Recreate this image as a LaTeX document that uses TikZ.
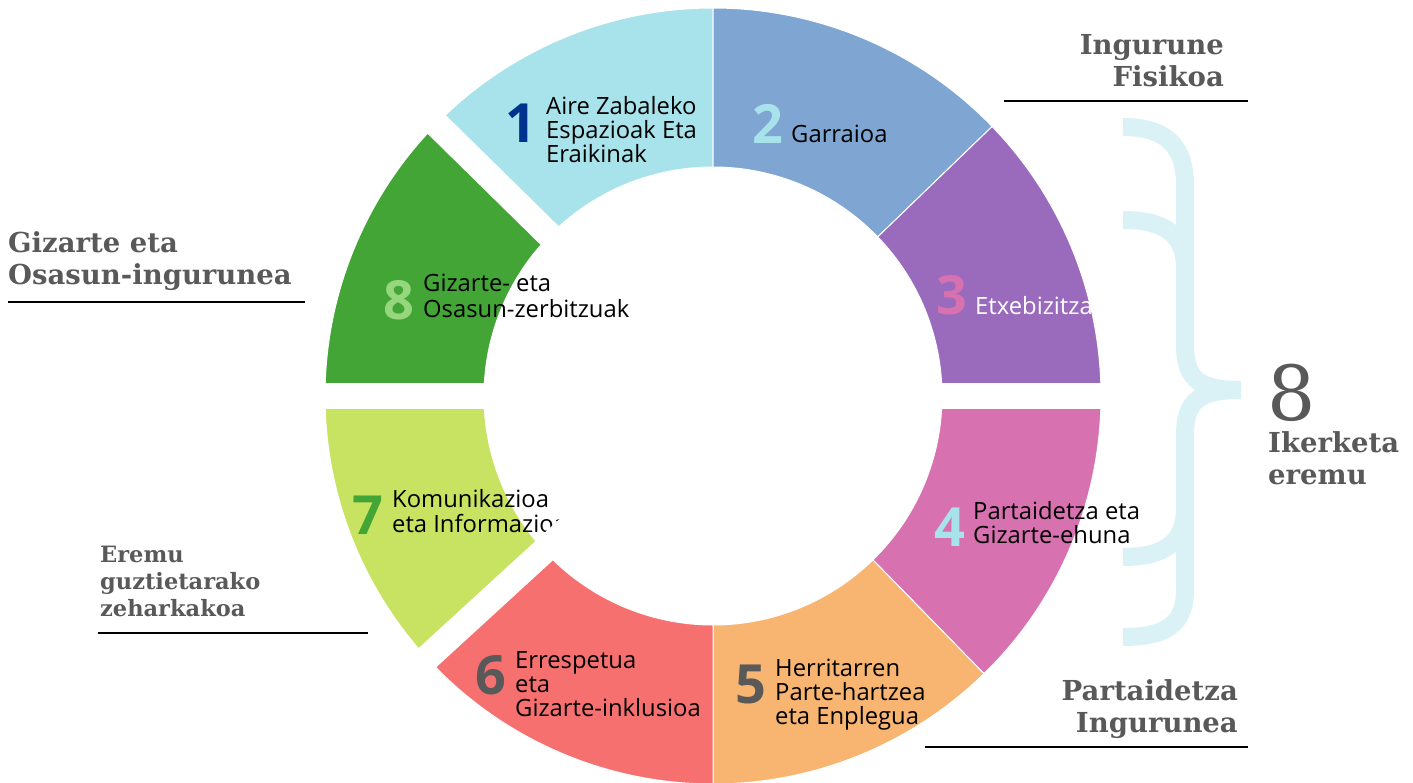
\documentclass[tikz,border=0pt]{standalone}
\usepackage{fontspec}
\setmainfont{Open Sans}
\newfontfamily\headfont{DejaVu Serif}
\definecolor{sone}{HTML}{A8E2EA}
\definecolor{stwo}{HTML}{7FA5D3}
\definecolor{sthree}{HTML}{9A6BBD}
\definecolor{sfour}{HTML}{D871B0}
\definecolor{sfive}{HTML}{F7B571}
\definecolor{ssix}{HTML}{F67070}
\definecolor{sseven}{HTML}{C8E261}
\definecolor{seight}{HTML}{42A536}
\definecolor{navy}{HTML}{00338D}
\definecolor{lgreen}{HTML}{96D77E}
\definecolor{hgray}{HTML}{595959}
\definecolor{bracec}{HTML}{DAF1F6}
\begin{document}
\begin{tikzpicture}[x=1pt,y=1pt,
    num/.style={font=\fontsize{54}{54}\selectfont\bfseries,inner sep=0pt},
    lab/.style={font=\fontsize{23.8}{24}\selectfont,align=left,inner sep=0pt,anchor=base west},
    head/.style={font=\headfont\bfseries\fontsize{27.5}{32}\selectfont,text=hgray,inner sep=0pt},
    rule/.style={line width=2.5pt},
    gap/.style={white,line width=26pt},
    brace/.style={bracec,line width=18pt}]
    \useasboundingbox (0,0) rectangle (1413,-783);
    \coordinate (c) at (713,-396);

    \begin{scope}[shift={(c)}]
        \foreach \a/\b/\col in {90/135.5/sone, 44/90/stwo, 0/44/sthree, -45.7/0/sfour,
                -90/-45.7/sfive, -137.5/-90/ssix, -180/-137.5/sseven, 135.5/180/seight}
            \fill[fill=\col,draw=white,line width=1pt] (\a:388) arc (\a:\b:388) -- (\b:229) arc (\b:\a:229) -- cycle;
    \end{scope}

    \node[num,text=navy] (n1) at (521,-123) {1};
    \node[lab] (t1) at (546,-163) {Aire Zabaleko\\Espazioak Eta\\Eraikinak};
    \node[num,text=sone] (n2) at (768,-124) {2};
    \node[lab] (t2) at (791,-143) {Garraioa};
    \node[num,text=sfour] (n3) at (952,-295) {3};
    \node[lab,text=white] (t3) at (975,-315) {Etxebizitza};
    \node[num,text=sone] (n4) at (950,-527) {4};
    \node[lab] (t4) at (973,-543) {Partaidetza eta\\Gizarte-ehuna};
    \node[num,text=hgray] (n5) at (751,-684) {5};
    \node[lab] (t5) at (775,-724) {Herritarren\\Parte-hartzea\\eta Enplegua};
    \node[num,text=hgray] (n6) at (491,-675) {6};
    \node[lab] (t6) at (515,-716) {Errespetua\\eta\\Gizarte-inklusioa};
    \node[num,text=seight] (n7) at (368,-515) {7};
    \node[lab,font=\fontsize{23.8}{25}\selectfont] (t7) at (392,-532) {Komunikazioa\\eta Informazioa};
    \node[num,text=lgreen] (n8) at (399,-300) {8};
    \node[lab,font=\fontsize{23.8}{26}\selectfont] (t8) at (423,-318) {Gizarte- eta\\Osasun-zerbitzuak};

    \draw[gap] (c) -- ++(0:400);
    \draw[gap] (c) -- ++(180:400);
    \draw[gap] (c) ++(135.5:215) -- ++(135.5:190);
    \draw[gap] (c) ++(222.5:150) -- ++(222.5:255);

    \draw[brace] (1123,-127) .. controls (1170,-127) and (1185,-150) .. (1185,-185) -- (1185,-345)
        .. controls (1185,-380) and (1200,-390) .. (1241,-390);
    \draw[brace] (1241,-390) .. controls (1200,-390) and (1185,-400) .. (1185,-435) -- (1185,-590)
        .. controls (1185,-625) and (1165,-637) .. (1123,-637);
    \draw[brace] (1123,-220) .. controls (1165,-220) and (1185,-235) .. (1185,-268);
    \draw[brace] (1123,-557) .. controls (1165,-557) and (1185,-542) .. (1185,-508);

    \node[head,align=right,anchor=base east] (fis) at (1224,-87) {Ingurune\\Fisikoa};
    \node[head,align=left,anchor=base west] (giz) at (8,-285) {Gizarte eta\\Osasun-ingurunea};
    \node[head,align=left,anchor=base west,font=\headfont\bfseries\fontsize{22.5}{27}\selectfont] (ere) at (100,-616) {Eremu\\guztietarako\\zeharkakoa};
    \node[head,align=right,anchor=base east] (par) at (1238,-732) {Partaidetza\\Ingurunea};
    \node[head,anchor=base west,font=\headfont\fontsize{76}{76}\selectfont] (zor) at (1267,-420) {8};
    \node[head,align=left,anchor=base west] (ike) at (1268,-484) {Ikerketa\\eremu};

    \draw[rule] (1004,-101) -- (1248,-101);
    \draw[rule] (8,-302) -- (305,-302);
    \draw[rule] (98,-633) -- (368,-633);
    \draw[rule] (925,-747) -- (1248,-747);
\end{tikzpicture}
\end{document}
